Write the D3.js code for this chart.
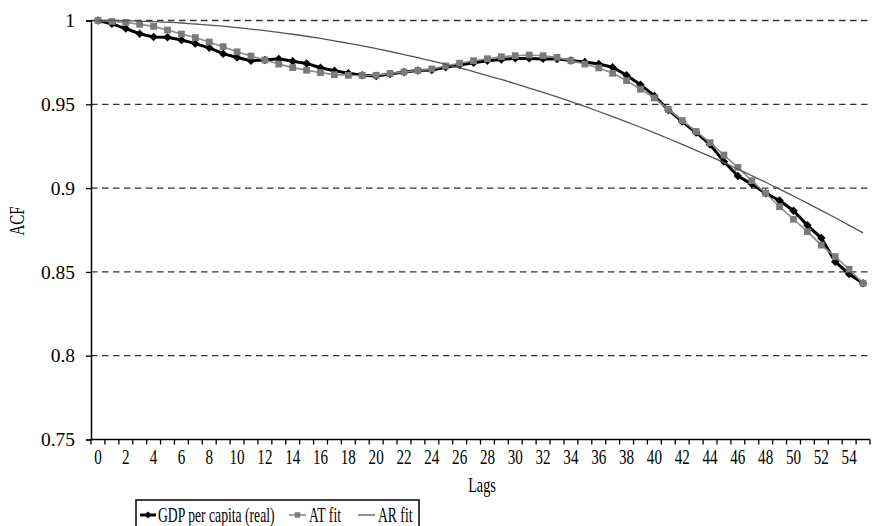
<!DOCTYPE html>
<html><head><meta charset="utf-8">
<script src="https://cdn.jsdelivr.net/npm/d3@7/dist/d3.min.js"></script>
<style>body{margin:0;background:#fff}svg{display:block}text{font-family:"Liberation Serif",serif;fill:#000}</style>
</head><body><svg id="c" width="872" height="526"></svg>
<script>
const lags = d3.range(0, 56);
const lagLabels = ["0","2","4","6","8","10","12","14","16","18","20","22","24","26","28","30","32","34","36","38","40","42","44","46","48","50","52","54"];
const yTicks = [0.75, 0.8, 0.85, 0.9, 0.95, 1];
const gdpReal = [1.0,0.998,0.9952,0.9921,0.9902,0.99,0.9884,0.9862,0.9837,0.9802,0.9779,0.976,0.9764,0.9771,0.9757,0.9743,0.9718,0.970,0.9685,0.9673,0.9669,0.968,0.9693,0.9702,0.9705,0.9721,0.9734,0.9748,0.976,0.9768,0.9774,0.9774,0.9771,0.977,0.9762,0.9752,0.974,0.9721,0.9673,0.9617,0.955,0.9466,0.9397,0.9332,0.926,0.9158,0.9072,0.9024,0.8969,0.8926,0.8865,0.8778,0.8702,0.8561,0.8487,0.8432];
const atFit = [1.0,0.9994,0.9989,0.9977,0.9965,0.9943,0.9919,0.9898,0.9872,0.9844,0.9813,0.9788,0.9764,0.974,0.9719,0.9703,0.9689,0.9677,0.9673,0.9672,0.9673,0.9684,0.9693,0.9702,0.9711,0.9729,0.9745,0.976,0.9772,0.9784,0.979,0.9794,0.979,0.978,0.976,0.974,0.9717,0.9685,0.9641,0.959,0.9538,0.947,0.9403,0.9338,0.9271,0.9197,0.9124,0.9044,0.8969,0.8889,0.8814,0.874,0.866,0.8591,0.8516,0.8432];
const arFit = [1.0,1.0,0.9998,0.9996,0.9993,0.999,0.9985,0.9979,0.9973,0.9966,0.9958,0.9949,0.994,0.9929,0.9918,0.9906,0.9893,0.9879,0.9864,0.9849,0.9832,0.9815,0.9797,0.9778,0.9759,0.9738,0.9717,0.9695,0.9671,0.9648,0.9623,0.9597,0.9571,0.9544,0.9516,0.9487,0.9457,0.9426,0.9395,0.9363,0.933,0.9296,0.9261,0.9225,0.9189,0.9152,0.9113,0.9074,0.9035,0.8994,0.8953,0.891,0.8867,0.8823,0.8778,0.8733];
const seriesNames = ["GDP per capita (real)", "AT fit", "AR fit"];

const svg = d3.select("#c");
const L = 91, R = 870, T = 20.5, B = 439.5;
const x = d3.scaleBand().domain(lags).range([L, R]).padding(0);
const y = d3.scaleLinear().domain([0.75, 1]).range([B, T]);
const cx = d => x(d) + x.bandwidth() / 2;

// gridlines
svg.append("g").selectAll("line").data(yTicks.filter(v => v > 0.75)).join("line")
  .attr("x1", L).attr("x2", R).attr("y1", d => y(d)).attr("y2", d => y(d))
  .attr("stroke", "#333").attr("stroke-width", 1.3).attr("stroke-dasharray", "6.5,4.5");

// y axis
const ya = svg.append("g").attr("transform", `translate(${L},0)`)
  .call(d3.axisLeft(y).tickValues(yTicks).tickSize(5).tickPadding(11).tickFormat(d => String(+d.toFixed(2))));
ya.select(".domain").attr("stroke", "#000").attr("stroke-width", 1.5);
ya.selectAll(".tick line").attr("stroke", "#000").attr("stroke-width", 1.3);
ya.selectAll("text").attr("font-size", 19.5).attr("font-family", "Liberation Serif");

// x axis
const xa = svg.append("g").attr("transform", `translate(0,${B})`);
xa.append("line").attr("x1", L).attr("x2", R).attr("stroke", "#000").attr("stroke-width", 1.5);
xa.selectAll(".bt").data(lags.concat([null])).join("line").attr("class", "bt")
  .attr("x1", d => d === null ? R : x(d)).attr("x2", d => d === null ? R : x(d))
  .attr("y1", 0).attr("y2", 5).attr("stroke", "#000").attr("stroke-width", 1.3);
xa.selectAll(".lb").data(lagLabels).join("text").attr("class", "lb")
  .attr("transform", d => `translate(${cx(+d)},24) scale(0.72,1)`)
  .attr("text-anchor", "middle").attr("font-size", 21).text(d => d);

// axis titles
svg.append("text").attr("transform", `translate(482,492) scale(0.68,1)`)
  .attr("text-anchor", "middle").attr("font-size", 21).text("Lags");
svg.append("text").attr("transform", `translate(24,221) rotate(-90) scale(0.75,1)`)
  .attr("text-anchor", "middle").attr("font-size", 20).text("ACF");

// lines
const line = d3.line().x((d, i) => cx(lags[i])).y(d => y(d));
svg.append("path").datum(gdpReal).attr("d", line).attr("fill", "none").attr("stroke", "#000").attr("stroke-width", 3);
svg.append("g").selectAll("path").data(gdpReal).join("path")
  .attr("d", d3.symbol(d3.symbolSquare, 36)())
  .attr("transform", (d, i) => `translate(${cx(lags[i])},${y(d)}) rotate(45)`).attr("fill", "#000");
svg.append("path").datum(atFit).attr("d", line).attr("fill", "none").attr("stroke", "#8a8a8a").attr("stroke-width", 1.6);
svg.append("g").selectAll("path").data(atFit).join("path")
  .attr("d", d3.symbol(d3.symbolSquare, 46)())
  .attr("transform", (d, i) => `translate(${cx(lags[i])},${y(d)})`).attr("fill", "#7a7a7a");
svg.append("path").datum(arFit).attr("d", d3.line().curve(d3.curveMonotoneX).x((d, i) => cx(lags[i])).y(d => y(d)))
  .attr("fill", "none").attr("stroke", "#555").attr("stroke-width", 1.3);

// legend
const lg = svg.append("g");
lg.append("rect").attr("x", 136).attr("y", 500).attr("width", 283).attr("height", 30)
  .attr("fill", "#fff").attr("stroke", "#000").attr("stroke-width", 1.5);
const ly = 515;
lg.append("line").attr("x1", 140).attr("x2", 156).attr("y1", ly).attr("y2", ly).attr("stroke", "#000").attr("stroke-width", 3);
lg.append("path").attr("d", d3.symbol(d3.symbolSquare, 26)()).attr("transform", `translate(148,${ly}) rotate(45)`).attr("fill", "#000");
lg.append("line").attr("x1", 289).attr("x2", 306).attr("y1", ly).attr("y2", ly).attr("stroke", "#8a8a8a").attr("stroke-width", 1.6);
lg.append("path").attr("d", d3.symbol(d3.symbolSquare, 30)()).attr("transform", `translate(297.5,${ly})`).attr("fill", "#7a7a7a");
lg.append("line").attr("x1", 358).attr("x2", 375).attr("y1", ly).attr("y2", ly).attr("stroke", "#555").attr("stroke-width", 1.3);
const lx = [158, 309, 378];
lg.selectAll(".lt").data(seriesNames).join("text").attr("class", "lt")
  .attr("transform", (d, i) => `translate(${lx[i]},${ly + 7}) scale(0.65,1)`)
  .attr("font-size", 21).text(d => d);
</script></body></html>
